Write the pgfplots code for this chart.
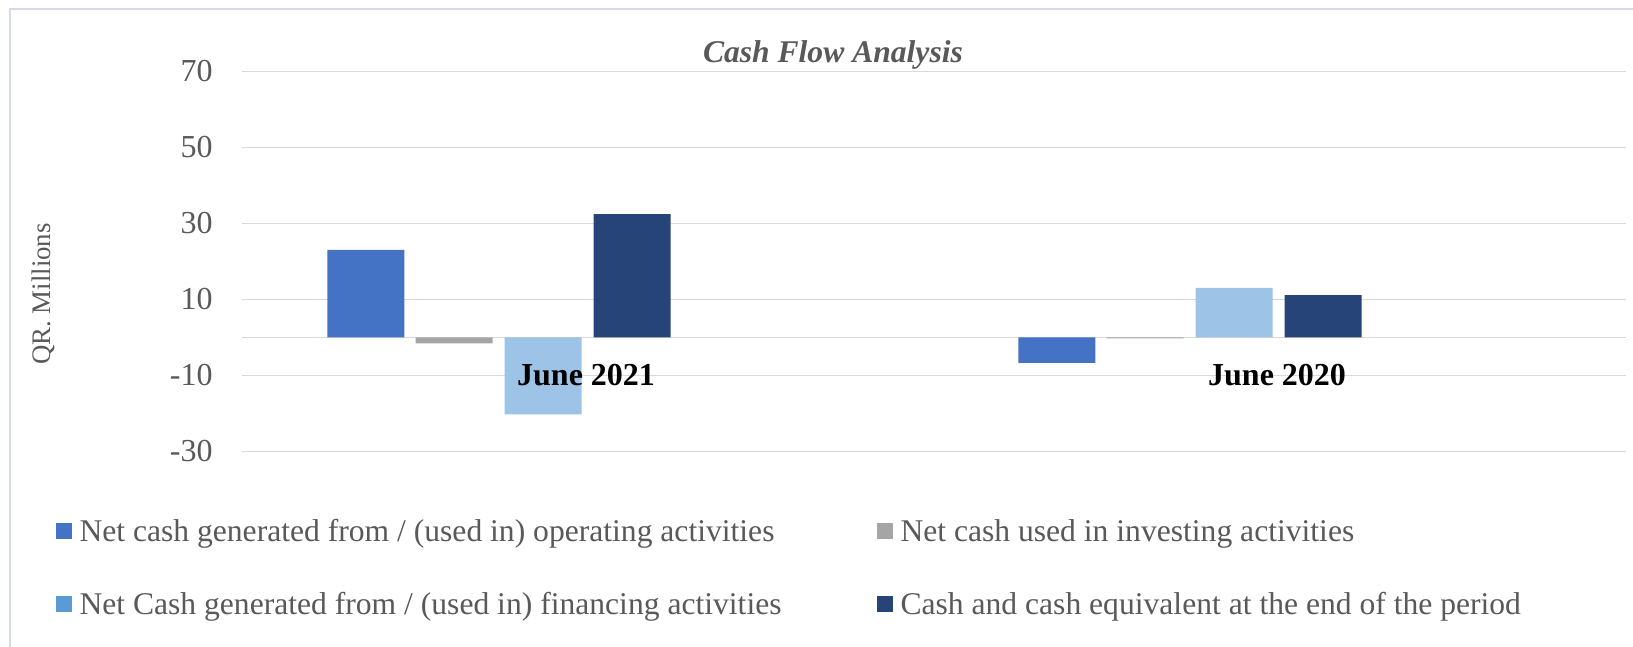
\documentclass[border=0pt]{standalone}
\usepackage{fontspec}
\setmainfont{Liberation Serif}
\usepackage{pgfplots}
\pgfplotsset{compat=1.18}
\definecolor{c1}{HTML}{4472C4}
\definecolor{c2}{HTML}{A5A5A5}
\definecolor{c3}{HTML}{9DC3E6}
\definecolor{c3leg}{HTML}{5B9BD5}
\definecolor{c4}{HTML}{264478}
\definecolor{tickgray}{HTML}{595959}
\definecolor{gridgray}{HTML}{D9D9D9}
\definecolor{bord}{HTML}{D6DCE5}
\begin{document}
\begin{tikzpicture}
\useasboundingbox (0,0) rectangle (816.5pt,323.5pt);
\fill[white] (0,0) rectangle (816.5pt,323.5pt);
\draw[color=bord, line width=0.7pt] (5pt,0) -- (5pt,319pt) -- (816.5pt,319pt);
\begin{axis}[
  at={(121pt,97.85pt)}, anchor=south west,
  scale only axis, width=692pt, height=190pt,
  xmin=-0.372, xmax=1.631, ymin=-30, ymax=70,
  ytick={-30,-10,10,30,50,70},
  xtick=\empty,
  yticklabel style={anchor=east, inner sep=0pt, xshift=-14.5pt, font=\fontsize{16}{19}\selectfont, text=tickgray},
  /pgf/number format/assume math mode=true,
  axis line style={draw=none},
  major tick length=0pt,
  ymajorgrids, grid style={line width=0.75pt, color=gridgray},
  extra y ticks={0}, extra y tick labels={},
  extra y tick style={grid=major},
  title={\bfseries\itshape Cash Flow Analysis},
  title style={at={(axis description cs:0.427,1.0122)}, anchor=center, yshift=0pt, font=\fontsize{15.8}{18}\selectfont, text=tickgray},
  ylabel={QR. Millions},
  ylabel style={at={(axis description cs:-0.1438,0.414)}, anchor=center, font=\fontsize{13.4}{16}\selectfont, text=tickgray},
  ybar, bar width=38.5pt,
  legend columns=2,
  legend cell align=left,
  legend style={at={(axis description cs:-0.1389,-0.1652)}, anchor=north west, draw=none, fill=none,
    font=\fontsize{15.8}{19}\selectfont, text=tickgray, row sep=23pt,
    nodes={inner sep=0.5pt},
    /tikz/every odd column/.append style={column sep=3.2pt}},
]
\addplot[fill=c1, draw=none, bar shift=-66.6pt,
  legend image code/.code={\fill[c1] (0pt,-3.5pt) rectangle (8pt,4.5pt);}]
  coordinates {(0,23.0) (1,-6.7)};
\addlegendentry{\makebox[398.3pt][l]{Net cash generated from / (used in) operating activities}}
\addplot[fill=c2, draw=none, bar shift=-22.4pt,
  legend image code/.code={\fill[c2] (0pt,-3.5pt) rectangle (8pt,4.5pt);}]
  coordinates {(0,-1.6) (1,-0.3)};
\addlegendentry{Net cash used in investing activities}
\addplot[fill=c3, draw=none, bar shift=22.0pt,
  legend image code/.code={\fill[c3leg] (0pt,-3.5pt) rectangle (8pt,4.5pt);}]
  coordinates {(0,-20.3) (1,13.0)};
\addlegendentry{\makebox[398.3pt][l]{Net Cash generated from / (used in) financing activities}}
\addplot[fill=c4, draw=none, bar shift=66.6pt,
  legend image code/.code={\fill[c4] (0pt,-3.5pt) rectangle (8pt,4.5pt);}]
  coordinates {(0,32.4) (1,11.1)};
\addlegendentry{Cash and cash equivalent at the end of the period}
\node[font=\fontsize{16}{19}\selectfont\bfseries, text=black] at (axis cs:0.126,-10) {June 2021};
\node[font=\fontsize{16}{19}\selectfont\bfseries, text=black] at (axis cs:1.126,-10) {June 2020};
\end{axis}
\end{tikzpicture}
\end{document}
